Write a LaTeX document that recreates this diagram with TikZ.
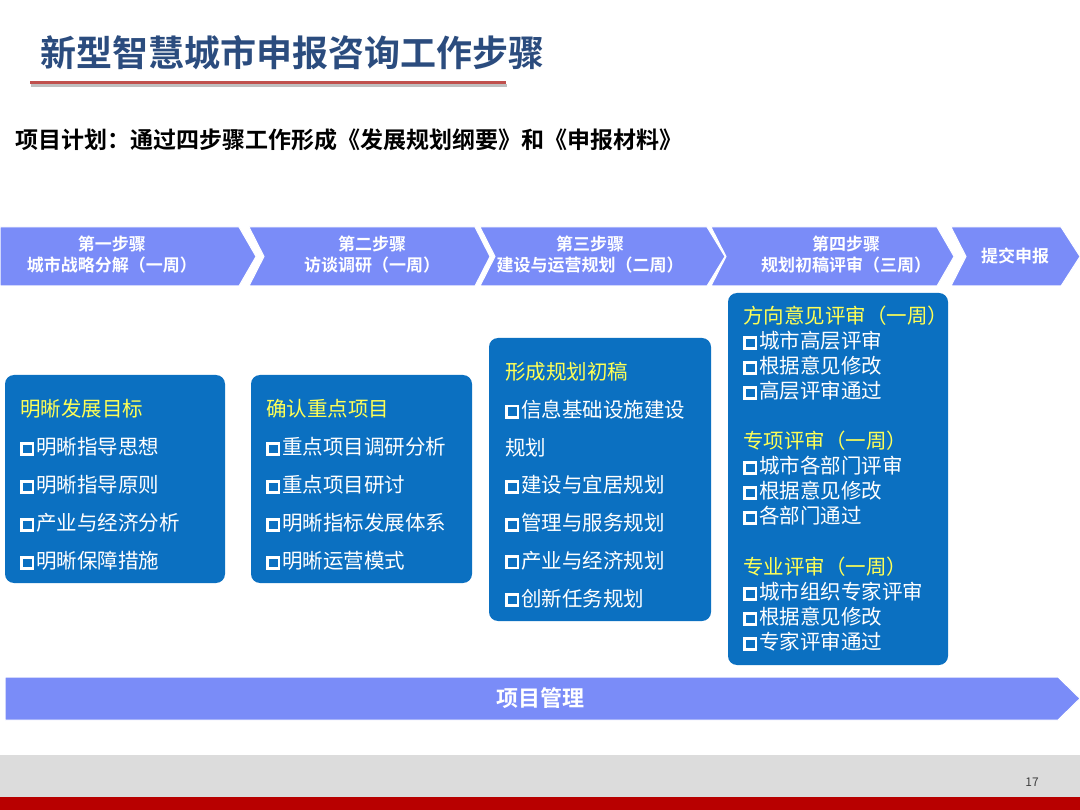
\documentclass[tikz,border=0pt]{standalone}
\usepackage{fontspec}
\setmainfont{Noto Sans CJK SC}
\newfontfamily\cjkbold{Noto Sans CJK SC Bold}
\usetikzlibrary{positioning}
\definecolor{chevblue}{HTML}{7A8CF8}
\definecolor{boxblue}{HTML}{0B70C1}
\definecolor{titleblue}{HTML}{2B4C7E}
\definecolor{headyellow}{HTML}{FFFF55}
\definecolor{lineRed}{HTML}{C0504D}
\definecolor{footgray}{HTML}{DCDCDC}
\definecolor{footred}{HTML}{B80000}
\tikzset{
  chev/.style={fill=chevblue, draw=white, line width=1pt},
  chevtext/.style={text=white, font=\cjkbold\fontsize{17}{21}\selectfont, align=center},
  stagebox/.style={fill=boxblue, rounded corners=9pt, draw=none},
  itemtext/.style={text=white, anchor=west, inner sep=0pt, font=\fontsize{20.5}{24}\selectfont},
  headtext/.style={itemtext, text=headyellow}
}
\newcommand{\sq}{{\setlength\fboxrule{2.8pt}\setlength\fboxsep{0pt}\raisebox{1.6pt}{\fbox{\rule{0pt}{8.5pt}\hspace{8.5pt}}}\hspace{2pt}}}
\begin{document}
\begin{tikzpicture}[x=1pt,y=-1pt]
\useasboundingbox (0,0) rectangle (1080,810);
% title
\node[anchor=west, inner sep=0pt, text=titleblue, font=\cjkbold\fontsize{36}{40}\selectfont] (title) at (40,53) {新型智慧城市申报咨询工作步骤};
\fill[black!25] (31,84) rectangle (507,87);
\fill[lineRed] (30,81) rectangle (506,84);
\node[anchor=west, inner sep=0pt, font=\cjkbold\fontsize{23}{27}\selectfont] (plan) at (15,140) {项目计划：通过四步骤工作形成《发展规划纲要》和《申报材料》};
% chevrons
\draw[chev] (0,227) -- (239,227) -- (256,256.5) -- (239,286) -- (0,286) -- cycle;
\draw[chev] (249,227) -- (475,227) -- (490,256.5) -- (475,286) -- (249,286) -- (264,256.5) -- cycle;
\draw[chev] (480,227) -- (707,227) -- (725,256.5) -- (707,286) -- (480,286) -- (495,256.5) -- cycle;
\draw[chev] (711,227) -- (937,227) -- (954,256.5) -- (937,286) -- (711,286) -- (726,256.5) -- cycle;
\draw[chev] (951,227) -- (1061,227) -- (1080,256.5) -- (1061,286) -- (951,286) -- (966,256.5) -- cycle;
\node[chevtext] (s1) at (112,255) {第一步骤\\城市战略分解（一周）};
\node[chevtext] (s2) at (372,255) {第二步骤\\访谈调研（一周）};
\node[chevtext] (s3) at (590,255) {第三步骤\\建设与运营规划（二周）};
\node[chevtext] (s4) at (846,255) {第四步骤\\规划初稿评审（三周）};
\node[chevtext] (s5) at (1015,256) {提交申报};
% stage boxes
\fill[stagebox] (5,375) rectangle (225,583);
\fill[stagebox] (251,375) rectangle (472,583);
\fill[stagebox] (489,338) rectangle (711,621);
\fill[stagebox] (728,293) rectangle (948,665);
\node[headtext] (h1) at (20,409) {明晰发展目标};
\foreach \t [count=\i] in {明晰指导思想,明晰指导原则,产业与经济分析,明晰保障措施}
  \node[itemtext] (a\i) at (20,409+38*\i) {\sq\t};
\node[headtext] (h2) at (266,409) {确认重点项目};
\foreach \t [count=\i] in {重点项目调研分析,重点项目研讨,明晰指标发展体系,明晰运营模式}
  \node[itemtext] (b\i) at (266,409+38*\i) {\sq\t};
\node[headtext] (h3) at (505,372) {形成规划初稿};
\foreach \t [count=\i] in {\sq 信息基础设施建设,规划,\sq 建设与宜居规划,\sq 管理与服务规划,\sq 产业与经济规划,\sq 创新任务规划}
  \node[itemtext] (c\i) at (505,372+37.7*\i) {\t};
\node[headtext] (h4a) at (743,316) {方向意见评审（一周）};
\foreach \t [count=\i] in {城市高层评审,根据意见修改,高层评审通过}
  \node[itemtext] (d\i) at (743,316+25*\i) {\sq\t};
\node[headtext] (h4b) at (743,441) {专项评审（一周）};
\foreach \t [count=\i] in {城市各部门评审,根据意见修改,各部门通过}
  \node[itemtext] (e\i) at (743,441+25*\i) {\sq\t};
\node[headtext] (h4c) at (743,567) {专业评审（一周）};
\foreach \t [count=\i] in {城市组织专家评审,根据意见修改,专家评审通过}
  \node[itemtext] (f\i) at (743,567+25*\i) {\sq\t};
% project management bar
\draw[chev] (5,677) -- (1058,677) -- (1080,698.5) -- (1058,720) -- (5,720) -- cycle;
\node[chevtext, font=\cjkbold\fontsize{22}{26}\selectfont] (pm) at (540,698) {项目管理};
% footer
\fill[footgray] (0,755) rectangle (1080,797);
\fill[footred] (0,797) rectangle (1080,810);
\node[font=\fontsize{12}{14}\selectfont, text=black!75] (pg) at (1032,782) {17};
\end{tikzpicture}
\end{document}
